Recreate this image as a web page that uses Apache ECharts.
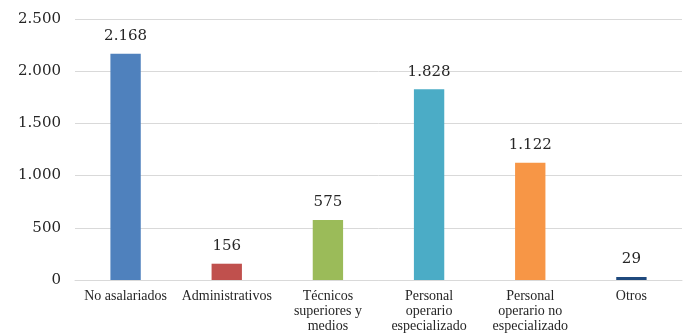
<!DOCTYPE html>
<html>
<head>
<meta charset="utf-8">
<script src="https://cdn.jsdelivr.net/npm/echarts@6/dist/echarts.min.js"></script>
<style>
  html, body { margin: 0; padding: 0; background: #ffffff; }
  #chart { width: 687px; height: 334px; }
</style>
</head>
<body>
<div id="chart"></div>
<script>
// Ocupados por categoría profesional
const categories = [
  'No asalariados',
  'Administrativos',
  'Técnicos\nsuperiores y\nmedios',
  'Personal\noperario\nespecializado',
  'Personal\noperario no\nespecializado',
  'Otros'
];
const values = [2168, 156, 575, 1828, 1122, 29];
const barColors = ['#4F81BD', '#C0504D', '#9BBB59', '#4BACC6', '#F79646', '#1F497D'];
const yTicks = { min: 0, max: 2500, interval: 500 };

// Spanish thousands separator: 2168 -> 2.168
function fmt(v) {
  return String(Math.round(v)).replace(/\B(?=(\d{3})+(?!\d))/g, '.');
}

const numFont = 'DejaVu Serif';
const textFont = 'Liberation Serif';

const chart = echarts.init(document.getElementById('chart'), null, { renderer: 'canvas' });
chart.setOption({
  animation: false,
  backgroundColor: '#ffffff',
  grid: { left: 75, right: 5, top: 19, bottom: 53, containLabel: false },
  xAxis: {
    type: 'category',
    data: categories,
    axisLine: { show: true, lineStyle: { color: '#D9D9D9', width: 1 } },
    axisTick: { show: false },
    axisLabel: {
      interval: 0,
      margin: 9,
      color: '#262626',
      fontFamily: textFont,
      fontSize: 14,
      lineHeight: 15
    }
  },
  yAxis: {
    type: 'value',
    min: yTicks.min,
    max: yTicks.max,
    interval: yTicks.interval,
    axisLine: { show: false },
    axisTick: { show: false },
    splitLine: { lineStyle: { color: '#D9D9D9', width: 1 } },
    axisLabel: {
      margin: 14,
      color: '#262626',
      fontFamily: numFont,
      fontSize: 15,
      formatter: fmt
    }
  },
  series: [{
    type: 'bar',
    data: values.map((v, i) => ({ value: v, itemStyle: { color: barColors[i] } })),
    barWidth: '30%',
    label: {
      show: true,
      position: 'top',
      distance: 10,
      color: '#262626',
      fontFamily: numFont,
      fontSize: 15,
      formatter: p => fmt(p.value)
    }
  }]
});
</script>
</body>
</html>
